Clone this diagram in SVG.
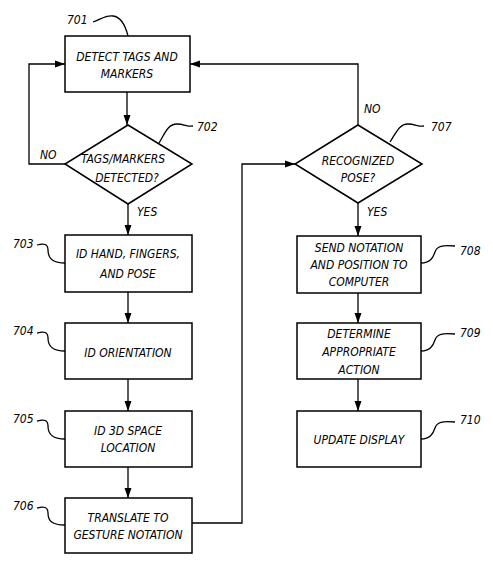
<svg xmlns="http://www.w3.org/2000/svg" width="493" height="565" viewBox="0 0 493 565">
<defs>
<marker id="ah" viewBox="0 0 10 10" refX="10" refY="5" markerWidth="10" markerHeight="10" markerUnits="userSpaceOnUse" orient="auto">
<path d="M0,1.5 L10,5 L0,8.5 Z" fill="#000"/>
</marker>
<style>
.box{fill:#fff;stroke:#000;stroke-width:1.5}
.t{font-family:"DejaVu Sans Condensed","DejaVu Sans",sans-serif;font-style:italic;font-size:12px;text-anchor:middle;fill:#000}
.n{font-family:"DejaVu Sans Condensed","DejaVu Sans",sans-serif;font-style:italic;font-size:12px;fill:#000}
.c{fill:none;stroke:#000;stroke-width:1.3}
.a{fill:none;stroke:#000;stroke-width:1.3;marker-end:url(#ah)}
.ld{fill:none;stroke:#000;stroke-width:1.3}
</style>
</defs>
<rect width="493" height="565" fill="#fff"/>
<g id="connectors">
<path class="a" d="M127,92 L127,125"/>
<path class="a" d="M65,164 L29,164 L29,64 L65,64"/>
<path class="a" d="M128,204 L128,235"/>
<path class="a" d="M128,292 L128,323"/>
<path class="a" d="M128,379 L128,411"/>
<path class="a" d="M128,467 L128,498"/>
<path class="a" d="M192,523 L242,523 L242,164 L295,164"/>
<path class="a" d="M358,125 L358,64 L190,64"/>
<path class="a" d="M358,203 L358,236"/>
<path class="a" d="M358,293 L358,323"/>
<path class="a" d="M358,379 L358,411"/>
<text class="n" x="40" y="159">NO</text>
<text class="n" x="137" y="216">YES</text>
<text class="n" x="364" y="113">NO</text>
<text class="n" x="367" y="216">YES</text>
</g>
<g id="n701">
<rect class="box" x="65" y="36" width="125" height="56"/>
<text class="t" x="127" y="61">DETECT TAGS AND</text>
<text class="t" x="127" y="78">MARKERS</text>
<text class="n" x="67" y="24">701</text>
<path class="ld" d="M93,22 C100,20 105,15 113,16 C122,17 126,28 128,36"/>
</g>
<g id="n702">
<polygon class="box" points="128,125 192,164 128,204 65,164"/>
<text class="t" x="123" y="163">TAGS/MARKERS</text>
<text class="t" x="127" y="182">DETECTED?</text>
<text class="n" x="197" y="131">702</text>
<path class="ld" d="M159,143 C165,133 168,124 177,124 C184,124 188,127 193,126"/>
</g>
<g id="n703">
<rect class="box" x="65" y="235" width="127" height="57"/>
<text class="t" x="128" y="258">ID HAND, FINGERS,</text>
<text class="t" x="128" y="278">AND POSE</text>
<text class="n" x="13" y="248">703</text>
<path class="ld" d="M37,245 C44,243 48,244 48,250 C48,258 52,263 65,263"/>
</g>
<g id="n704">
<rect class="box" x="65" y="323" width="127" height="56"/>
<text class="t" x="128" y="357">ID ORIENTATION</text>
<text class="n" x="13" y="335">704</text>
<path class="ld" d="M37,333 C44,331 48,332 48,338 C48,346 52,351 65,351"/>
</g>
<g id="n705">
<rect class="box" x="65" y="411" width="127" height="56"/>
<text class="t" x="128" y="435">ID 3D SPACE</text>
<text class="t" x="128" y="452">LOCATION</text>
<text class="n" x="13" y="423">705</text>
<path class="ld" d="M37,421 C44,419 48,420 48,426 C48,434 52,439 65,439"/>
</g>
<g id="n706">
<rect class="box" x="65" y="498" width="127" height="55"/>
<text class="t" x="128" y="522">TRANSLATE TO</text>
<text class="t" x="128" y="539">GESTURE NOTATION</text>
<text class="n" x="13" y="510">706</text>
<path class="ld" d="M37,508 C44,506 48,507 48,513 C48,521 52,525 65,525"/>
</g>
<g id="n707">
<polygon class="box" points="358,125 422,164 358,203 295,164"/>
<text class="t" x="358" y="165">RECOGNIZED</text>
<text class="t" x="358" y="182">POSE?</text>
<text class="n" x="431" y="131">707</text>
<path class="ld" d="M390,142 C396,133 399,124 408,124 C415,124 419,127 424,126"/>
</g>
<g id="n708">
<rect class="box" x="297" y="236" width="124" height="57"/>
<text class="t" x="359" y="252">SEND NOTATION</text>
<text class="t" x="359" y="269">AND POSITION TO</text>
<text class="t" x="359" y="286">COMPUTER</text>
<text class="n" x="460" y="255">708</text>
<path class="ld" d="M421,263 C430,263 433,258 435,252 C437,246 442,245 455,246"/>
</g>
<g id="n709">
<rect class="box" x="297" y="323" width="124" height="56"/>
<text class="t" x="359" y="338">DETERMINE</text>
<text class="t" x="359" y="356">APPROPRIATE</text>
<text class="t" x="359" y="374">ACTION</text>
<text class="n" x="460" y="337">709</text>
<path class="ld" d="M421,351 C430,351 433,346 435,340 C437,334 442,333 455,334"/>
</g>
<g id="n710">
<rect class="box" x="297" y="411" width="124" height="56"/>
<text class="t" x="359" y="444">UPDATE DISPLAY</text>
<text class="n" x="460" y="424">710</text>
<path class="ld" d="M421,439 C430,439 433,434 435,428 C437,422 442,421 455,422"/>
</g>
</svg>
